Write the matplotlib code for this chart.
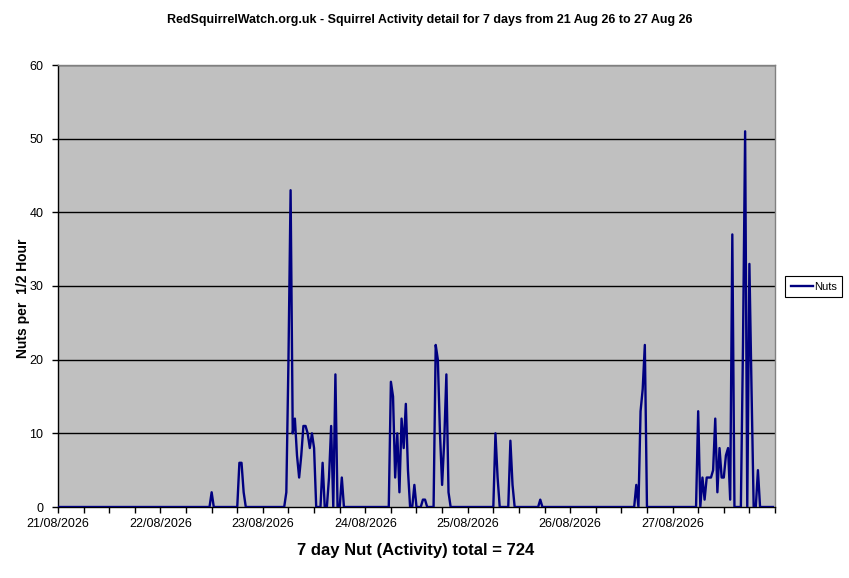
import numpy as np
import matplotlib
matplotlib.use('Agg')
import matplotlib.pyplot as plt
from matplotlib.ticker import MultipleLocator

plt.rcParams['font.family'] = ['Liberation Sans', 'DejaVu Sans']

# nuts per half hour, 48 slots per day
day_labels = ['21/08/2026', '22/08/2026', '23/08/2026', '24/08/2026',
              '25/08/2026', '26/08/2026', '27/08/2026']

nuts_21 = [0] * 48
nuts_22 = [0, 0, 0, 0, 0, 0, 0, 0, 0, 0, 0, 0,
           0, 0, 0, 0, 0, 0, 0, 0, 0, 0, 0, 0,
           2, 0, 0, 0, 0, 0, 0, 0, 0, 0, 0, 0,
           0, 6, 6, 2, 0, 0, 0, 0, 0, 0, 0, 0]
nuts_23 = [0, 0, 0, 0, 0, 0, 0, 0, 0, 0, 0, 2,
           20, 43, 10, 12, 7, 4, 7, 11, 11, 10, 8, 10,
           8, 0, 0, 0, 6, 0, 0, 4, 11, 0, 18, 0,
           0, 4, 0, 0, 0, 0, 0, 0, 0, 0, 0, 0]
nuts_24 = [0, 0, 0, 0, 0, 0, 0, 0, 0, 0, 0, 0,
           17, 15, 4, 10, 2, 12, 8, 14, 5, 0, 0, 3,
           0, 0, 0, 1, 1, 0, 0, 0, 0, 22, 20, 10,
           3, 9, 18, 2, 0, 0, 0, 0, 0, 0, 0, 0]
nuts_25 = [0, 0, 0, 0, 0, 0, 0, 0, 0, 0, 0, 0,
           0, 10, 4, 0, 0, 0, 0, 0, 9, 3, 0, 0,
           0, 0, 0, 0, 0, 0, 0, 0, 0, 0, 1, 0,
           0, 0, 0, 0, 0, 0, 0, 0, 0, 0, 0, 0]
nuts_26 = [0, 0, 0, 0, 0, 0, 0, 0, 0, 0, 0, 0,
           0, 0, 0, 0, 0, 0, 0, 0, 0, 0, 0, 0,
           0, 0, 0, 0, 0, 0, 0, 3, 0, 13, 16, 22,
           0, 0, 0, 0, 0, 0, 0, 0, 0, 0, 0, 0]
nuts_27 = [0, 0, 0, 0, 0, 0, 0, 0, 0, 0, 0, 0,
           13, 0, 4, 1, 4, 4, 4, 5, 12, 2, 8, 4,
           4, 7, 8, 1, 37, 0, 0, 0, 0, 22, 51, 0,
           33, 16, 0, 0, 5, 0, 0, 0, 0, 0, 0, 0]

nuts = np.array(nuts_21 + nuts_22 + nuts_23 + nuts_24 + nuts_25 + nuts_26 + nuts_27)
t = np.arange(len(nuts)) / 48.0

fig = plt.figure(figsize=(8.49, 5.78), dpi=100)
ax = fig.add_axes([58 / 849, 1 - 507 / 578, 717 / 849, 442 / 578])
ax.set_facecolor('#C0C0C0')

ax.plot(t, nuts, color='#000080', lw=1.7, label='Nuts', zorder=3)

ax.set_xlim(0, 7)
ax.set_ylim(0, 60)
ax.set_yticks(range(0, 61, 10))
ax.set_xticks(range(7))
ax.set_xticklabels(day_labels)
ax.xaxis.set_minor_locator(MultipleLocator(0.25))
for y in range(10, 61, 10):
    ax.axhline(y, color='black', lw=1.0, zorder=1)

ax.tick_params(axis='both', which='both', direction='out', color='black',
               labelsize=9, width=1)
ax.tick_params(axis='x', which='major', length=4, pad=4)
ax.tick_params(axis='x', which='minor', length=4)
ax.tick_params(axis='y', length=4, pad=6.5)

for side in ['left', 'bottom']:
    ax.spines[side].set_color('black')
    ax.spines[side].set_linewidth(1.0)
for side in ['top', 'right']:
    ax.spines[side].set_color('#808080')
    ax.spines[side].set_linewidth(1.0)

fig.text(0.506, 0.965,
         'RedSquirrelWatch.org.uk - Squirrel Activity detail for 7 days from 21 Aug 26 to 27 Aug 26',
         ha='center', va='center', fontsize=9, fontweight='bold')
fig.text(23 / 849, 1 - 298 / 578, 'Nuts per  1/2 Hour', rotation=90, ha='center', va='center',
         fontsize=10, fontweight='bold')
fig.text(0.489, 0.048, f'7 day Nut (Activity) total = {nuts.sum()}',
         ha='center', va='center', fontsize=12, fontweight='bold')

leg = fig.legend(loc='center left', bbox_to_anchor=(785 / 849, 1 - 286.5 / 578),
                 fontsize=8, frameon=True, fancybox=False, edgecolor='black',
                 framealpha=1, handlelength=2.0, borderpad=0.5, handletextpad=0.1,
                 borderaxespad=0)
leg.get_frame().set_linewidth(0.8)

fig.savefig('out.png', dpi=100, facecolor='white')
